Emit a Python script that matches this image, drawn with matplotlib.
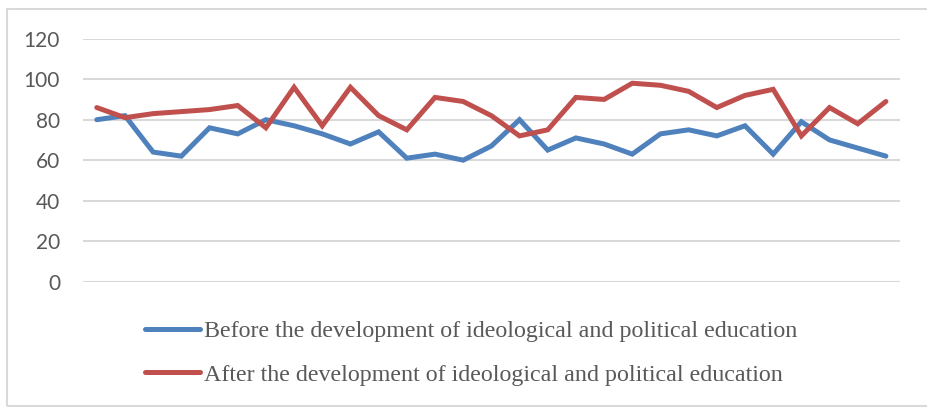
import matplotlib
matplotlib.use("Agg")
import matplotlib.pyplot as plt
from matplotlib.patches import Rectangle

before = [80, 82, 64, 62, 76, 73, 80, 77, 73, 68, 74, 61, 63, 60, 67, 80, 65, 71,
          68, 63, 73, 75, 72, 77, 63, 79, 70, 66, 62]
after = [86, 81, 83, 84, 85, 87, 76, 96, 77, 96, 82, 75, 91, 89, 82, 72, 75, 91,
         90, 98, 97, 94, 86, 92, 95, 72, 86, 78, 89]
labels = ["Before the development of ideological and political education",
          "After the development of ideological and political education"]
yticks = [0, 20, 40, 60, 80, 100, 120]

W, H = 927, 407
fig = plt.figure(figsize=(W / 100, H / 100), dpi=100)
fig.patches.append(Rectangle((6.5 / W, 1 / H), (W + 5) / W, (H - 9.5) / H,
                             transform=fig.transFigure, fill=False,
                             edgecolor="#D9D9D9", linewidth=1.5, zorder=0))

ax = fig.add_axes([82.7 / W, (H - 281.7) / H, (900 - 82.7) / W, (281.7 - 38.7) / H])
x = list(range(len(before)))
ax.plot(x, before, color="#4F81BD", linewidth=3.6, solid_capstyle="round",
        solid_joinstyle="miter", label=labels[0], zorder=3)
ax.plot(x, after, color="#C0504D", linewidth=3.6, solid_capstyle="round",
        solid_joinstyle="miter", label=labels[1], zorder=3)

ax.set_xlim(-0.5, len(before) - 0.5)
ax.set_ylim(0, 120)
ax.set_yticks(yticks)
ax.set_yticklabels([str(v) for v in yticks], fontsize=15, color="#595959",
                   family=["Lato", "DejaVu Sans"])
ax.set_xticks([])
ax.tick_params(axis="y", length=0, pad=16.3)
ax.grid(axis="y", color="#D9D9D9", linewidth=1.5)
ax.set_axisbelow(True)
for s in ax.spines.values():
    s.set_visible(False)

leg = fig.legend(loc="center left", bbox_to_anchor=(145 / W, 1 - 353 / H),
                 frameon=False, borderpad=0, borderaxespad=0,
                 handlelength=2.3, handletextpad=0.15, labelspacing=0.89,
                 prop={"family": "Liberation Serif", "size": 17.3})
for t in leg.get_texts():
    t.set_color("#595959")

fig.savefig("out.png", dpi=100)
